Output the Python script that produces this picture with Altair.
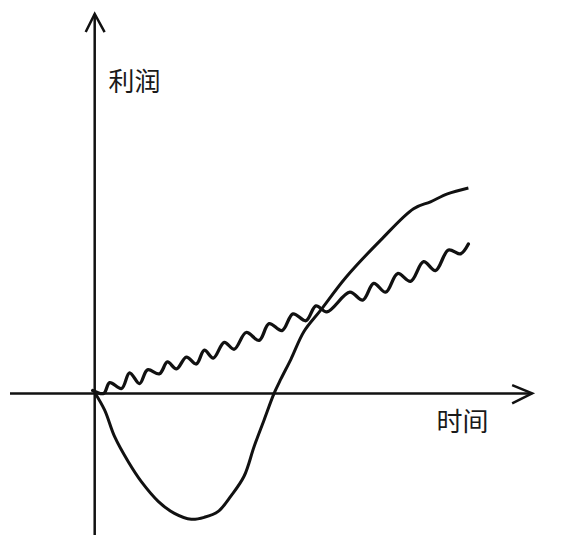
import altair as alt
import pandas as pd

# J-curve (time offset, profit)
j_t = [0, 10, 20, 34, 47, 64, 80, 97, 110, 124, 137, 150, 160, 170, 180, 187, 197, 210, 227, 252, 287, 320, 337, 354, 375]
j_p = [1, -17, -44, -70, -90, -110, -122, -128, -126, -120, -104, -84, -54, -27, 0, 15, 35, 63, 85, 118, 156, 188, 195, 203, 209]

# wavy line (peaks and troughs)
w_t = [-2, 9, 15, 27, 35, 45, 53, 65, 73, 82, 92, 102, 110, 119, 130, 140, 152, 165, 175, 188,
       199, 212, 222, 233, 256, 269, 280, 292, 304, 317, 330, 342, 355, 367, 375]
w_p = [3, 0, 11, 5, 21, 10, 24, 20, 32, 25, 37, 30, 44, 36, 52, 45, 62, 54, 71, 64,
       81, 74, 89, 83, 103, 95, 112, 103, 122, 114, 134, 125, 146, 142, 152]

# axes extent
axis_x_start, axis_x_end = -85, 439
axis_y_start, axis_y_end = -144, 386

labels = ["利润", "时间"]
label_t = [40, 369]
label_p = [316, -30]

X_DOMAIN = [-85, 483]
Y_DOMAIN = [-144, 385]

xs = alt.Scale(domain=X_DOMAIN, nice=False, zero=False)
ys = alt.Scale(domain=Y_DOMAIN, nice=False, zero=False)

j_df = pd.DataFrame({"t": j_t, "p": j_p})
w_df = pd.DataFrame({"t": w_t, "p": w_p})
axes_df = pd.DataFrame({
    "t": [axis_x_start, 0], "t2": [axis_x_end, 0],
    "p": [0, axis_y_start], "p2": [0, axis_y_end],
})
xarrow_df = pd.DataFrame({"t": [axis_x_end], "p": [0]})
yarrow_df = pd.DataFrame({"t": [0], "p": [axis_y_end]})
lab_df = pd.DataFrame({"t": label_t, "p": label_p, "label": labels})

X = lambda f="t": alt.X(f, type="quantitative", scale=xs, axis=None)
Y = lambda f="p": alt.Y(f, type="quantitative", scale=ys, axis=None)

axes = alt.Chart(axes_df).mark_rule(color="#111", strokeWidth=2.5).encode(
    x=X(), x2="t2", y=Y(), y2="p2"
)

xarrow = alt.Chart(xarrow_df).mark_point(
    shape="M -1 -0.42 L 0 0 L -1 0.5", size=1600, filled=False,
    stroke="#111", strokeWidth=2.5, opacity=1
).encode(x=X(), y=Y())

yarrow = alt.Chart(yarrow_df).mark_point(
    shape="M -0.5 1 L 0 0 L 0.55 1", size=1300, filled=False,
    stroke="#111", strokeWidth=2.5, opacity=1
).encode(x=X(), y=Y())

jline = alt.Chart(j_df).mark_line(
    color="#111", strokeWidth=3, interpolate="catmull-rom"
).encode(x=X(), y=Y(), order="t:Q")

wline = alt.Chart(w_df).mark_line(
    color="#111", strokeWidth=3.3, interpolate="catmull-rom", strokeJoin="round", strokeCap="round"
).encode(x=X(), y=Y(), order="t:Q")

text = alt.Chart(lab_df).mark_text(
    font="Noto Sans CJK SC", fontSize=26, color="#1a1a1a", align="center", baseline="middle"
).encode(x=X(), y=Y(), text="label:N")

chart = alt.layer(axes, xarrow, yarrow, jline, wline, text).properties(
    width=568, height=529, padding=0,
    autosize=alt.AutoSizeParams(type="fit", contains="padding"),
    background="white",
).configure_view(stroke=None)

chart.save("out.html", embed_options={"renderer": "svg", "actions": False})
